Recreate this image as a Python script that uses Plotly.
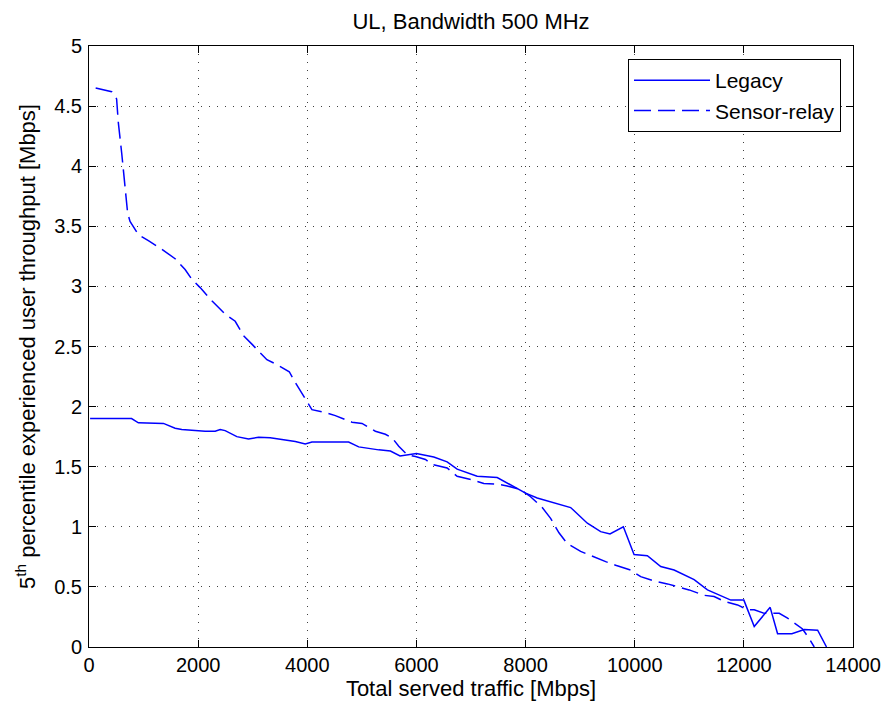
import plotly.graph_objects as go

# ---- data ----
legacy_x = [20, 780, 905, 1364, 1578, 1700, 2006, 2128, 2312, 2404, 2495, 2709, 2923, 3107,
            3321, 3596, 3780, 3963, 4085, 4758, 4942, 5309, 5523, 5700, 6000, 6318, 6563,
            6746, 7113, 7480, 7725, 8000, 8213, 8519, 8826, 9132, 9376, 9547, 9792, 9988,
            10232, 10477, 10722, 11089, 11333, 11761, 12000, 12190, 12482, 12618, 12880,
            13107, 13352, 13515]
legacy_y = [1.90, 1.90, 1.865, 1.86, 1.82, 1.81, 1.80, 1.795, 1.795, 1.81, 1.80, 1.75, 1.73,
            1.745, 1.74, 1.72, 1.71, 1.69, 1.705, 1.705, 1.665, 1.64, 1.63, 1.59, 1.61, 1.58,
            1.54, 1.48, 1.42, 1.41, 1.35, 1.28, 1.24, 1.20, 1.16, 1.03, 0.96, 0.94, 1.00,
            0.77, 0.76, 0.67, 0.64, 0.56, 0.475, 0.39, 0.39, 0.17, 0.33, 0.11, 0.11, 0.145,
            0.14, 0.0]

sensor_x = [122, 415, 506, 538, 599, 660, 708, 752, 905, 1088, 1333, 1578, 1761, 1884, 2037,
            2251, 2495, 2679, 2831, 2985, 3260, 3443, 3670, 3780, 3963, 4085, 4330, 4514,
            4820, 5003, 5248, 5431, 5554, 5676, 5829, 5982, 6165, 6287, 6563, 6746, 7021,
            7235, 7480, 7663, 7908, 8092, 8306, 8459, 8612, 8765, 9009, 9193, 9468, 9651,
            9927, 10110, 10385, 10599, 10813, 10997, 11272, 11455, 11639, 11884, 12067,
            12190, 12373, 12648, 12801, 13076, 13198, 13290]
sensor_y = [4.65, 4.62, 4.56, 4.36, 4.11, 3.84, 3.61, 3.54, 3.43, 3.38, 3.31, 3.23, 3.14, 3.06,
            2.99, 2.88, 2.77, 2.71, 2.59, 2.52, 2.39, 2.35, 2.29, 2.20, 2.07, 1.975, 1.95,
            1.925, 1.87, 1.86, 1.795, 1.77, 1.74, 1.67, 1.60, 1.585, 1.56, 1.52, 1.49, 1.42,
            1.39, 1.36, 1.355, 1.34, 1.31, 1.25, 1.16, 1.07, 0.95, 0.86, 0.795, 0.76, 0.71,
            0.68, 0.64, 0.585, 0.545, 0.525, 0.50, 0.475, 0.43, 0.42, 0.38, 0.35, 0.31, 0.31,
            0.28, 0.28, 0.24, 0.15, 0.07, 0.0]

x_ticks = [0, 2000, 4000, 6000, 8000, 10000, 12000, 14000]
y_ticks = [0, 0.5, 1, 1.5, 2, 2.5, 3, 3.5, 4, 4.5, 5]
y_tick_labels = ["0", "0.5", "1", "1.5", "2", "2.5", "3", "3.5", "4", "4.5", "5"]

FONT = "Liberation Sans, Arial, Helvetica, sans-serif"
BLUE = "rgb(0,0,255)"

fig = go.Figure()
fig.add_trace(go.Scatter(x=legacy_x, y=legacy_y, mode="lines", name="Legacy",
                         line=dict(color=BLUE, width=1.5)))
fig.add_trace(go.Scatter(x=sensor_x, y=sensor_y, mode="lines", name="Sensor-relay",
                         line=dict(color=BLUE, width=1.5, dash="17px,7px")))

axis_common = dict(
    showline=True, linecolor="black", linewidth=1, mirror="allticks",
    ticks="inside", ticklen=7, tickcolor="black", tickwidth=1,
    showgrid=True, gridcolor="rgba(0,0,0,0.75)", gridwidth=1.2, griddash="1px,7px",
    zeroline=False, tickfont=dict(family=FONT, size=20, color="black"),
)

fig.update_layout(
    width=886, height=711,
    margin=dict(l=89, r=33, t=46, b=64),
    paper_bgcolor="white", plot_bgcolor="white",
    font=dict(family=FONT, size=20, color="black"),
    title=dict(text="UL, Bandwidth 500 MHz", x=0.5, xref="paper", xanchor="center",
               y=1 - 21 / 711, yref="container", yanchor="middle",
               font=dict(family=FONT, size=22, color="black")),
    xaxis=dict(range=[0, 14000], tickvals=x_ticks, ticktext=[str(v) for v in x_ticks],
               title=dict(text="Total served traffic [Mbps]", standoff=2,
                          font=dict(family=FONT, size=22, color="black")),
               automargin=False, **axis_common),
    yaxis=dict(range=[0, 5], tickvals=y_ticks, ticktext=y_tick_labels,
               ticklabelstandoff=2,
               title=dict(text="5<sup>th</sup> percentile experienced user throughput [Mbps]",
                          standoff=12, font=dict(family=FONT, size=22, color="black")),
               automargin=False, **axis_common),
    legend=dict(x=(628 - 89) / 764, y=(647 - 59) / 601, xanchor="left", yanchor="top",
                bgcolor="white", bordercolor="black", borderwidth=1,
                font=dict(family=FONT, size=21, color="black"),
                itemwidth=76, tracegroupgap=0),
    showlegend=True,
)

fig.write_html("out.html")
